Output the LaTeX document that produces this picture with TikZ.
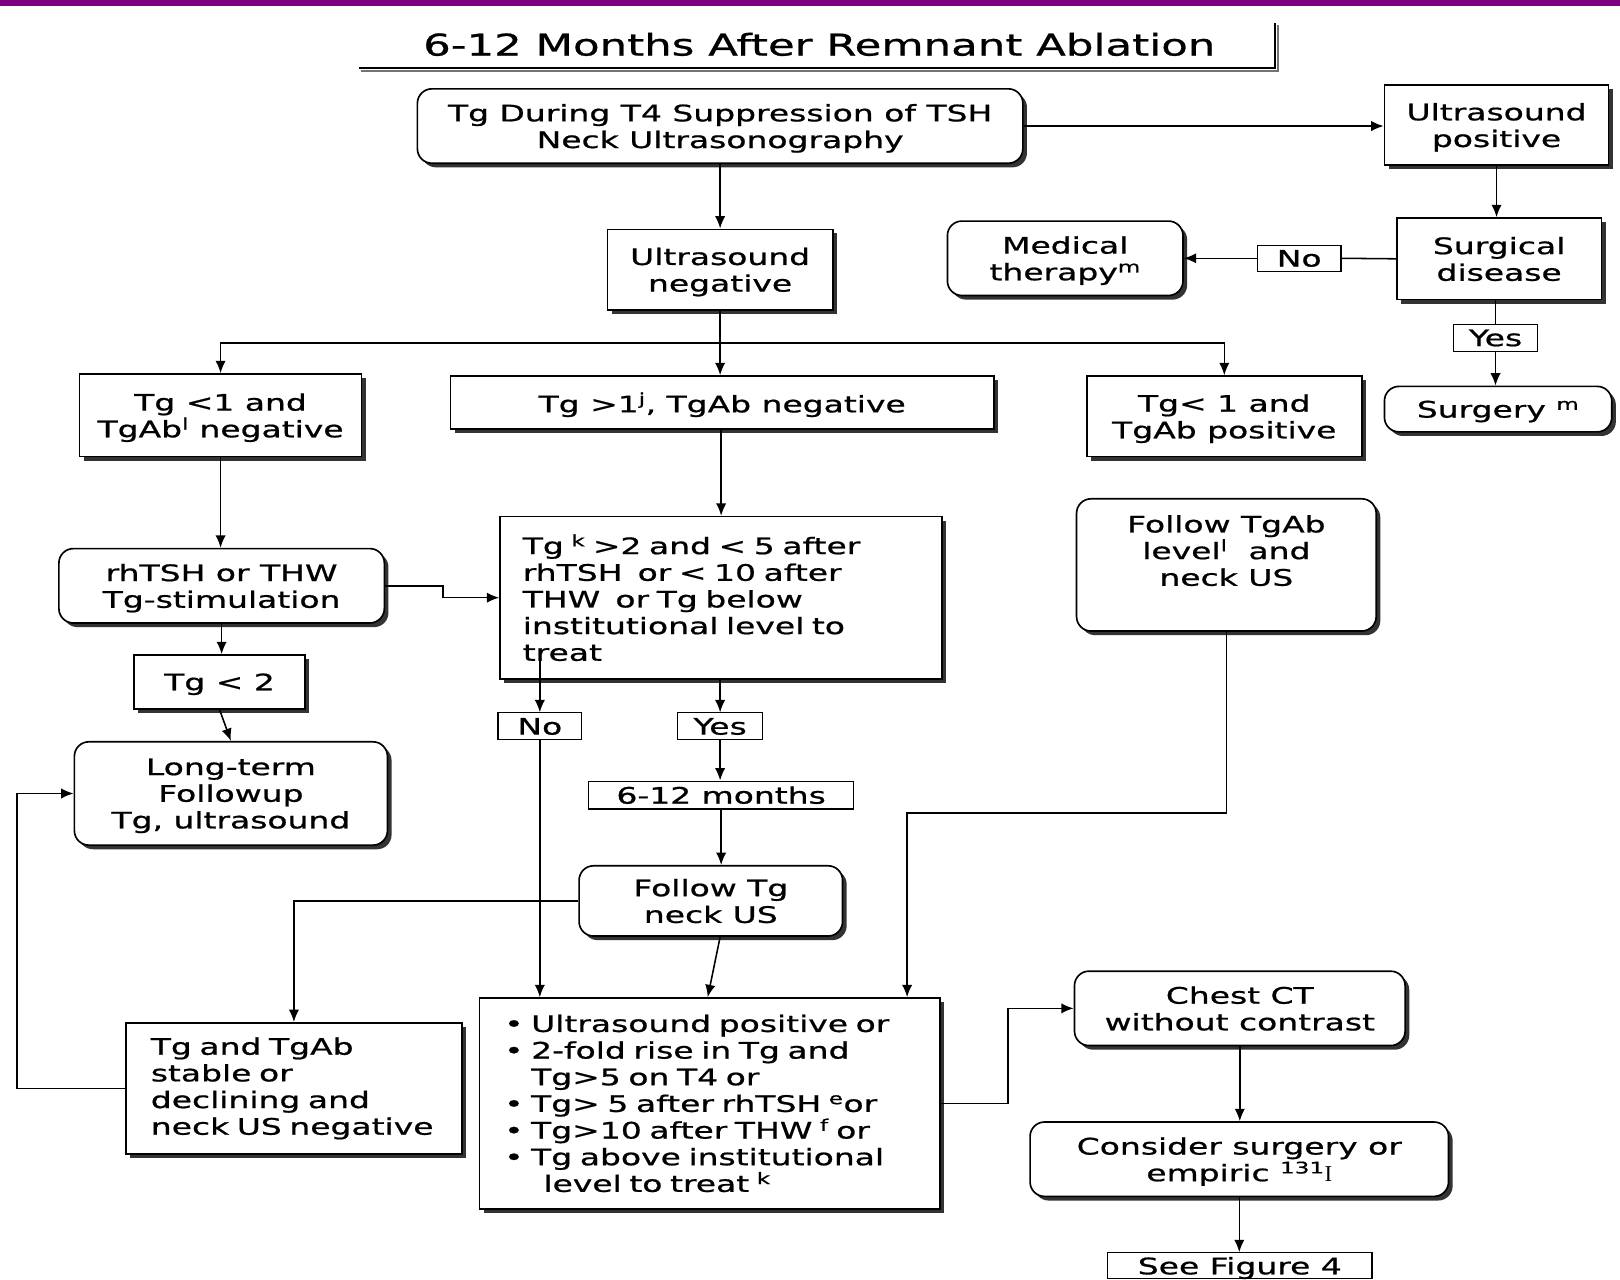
\documentclass[tikz,border=0pt]{standalone}
\usepackage{fontspec}
\setmainfont{DejaVu Sans}[FakeStretch=1.45,FakeBold=0.8]
\newfontfamily\serifI{Liberation Serif}
\usetikzlibrary{arrows.meta,shadows,calc}
\definecolor{topbar}{HTML}{800080}
\begin{document}
\begin{tikzpicture}[x=1pt,y=-1pt,
  every node/.style={font=\fontsize{22}{25.8}\selectfont},
  box/.style={draw, line width=1.6pt, fill=white,
    drop shadow={shadow xshift=4pt, shadow yshift=-4pt, fill=black!80, opacity=1},
    align=center, inner sep=4pt},
  cbox/.style={box, text depth=0pt},
  rbox/.style={cbox, rounded corners=14pt},
  lbl/.style={draw, line width=1.1pt, fill=white, inner sep=1pt, align=center, text depth=0pt},
  arr/.style={line width=1.5pt, -{Latex[length=12pt,width=10pt]}},
  conn/.style={line width=1.5pt}]
\useasboundingbox (0,0) rectangle (1568,1238);
\fill[white] (0,0) rectangle (1568,1238);
\fill[topbar] (0,0) rectangle (1568,6);

% title
\node[font=\fontsize{29}{34}\selectfont] (title) at (793,43) {6-12 Months After Remnant Ablation};
\draw[line width=2pt, black!55] (349,69) -- (1237,69) -- (1237,24);
\draw[line width=2pt] (347,66) -- (1234,66) -- (1234,22);

% nodes
\node[rbox, minimum width=586pt, minimum height=72pt] (n1) at (697,122) {Tg During T4 Suppression of TSH\\Neck Ultrasonography};
\node[cbox, minimum width=217pt, minimum height=78pt] (usp) at (1448.5,121) {Ultrasound\\positive};
\node[cbox, minimum width=218pt, minimum height=78pt] (usn) at (697,261) {Ultrasound\\negative};
\node[rbox, minimum width=228pt, minimum height=72pt] (med) at (1031,250) {Medical\\therapy\textsuperscript{m}};
\node[lbl, minimum width=81pt, minimum height=25pt] (nolab1) at (1257.5,250) {No};
\node[cbox, minimum width=198pt, minimum height=79pt] (surg) at (1451,250.5) {Surgical\\disease};
\node[lbl, minimum width=81pt, minimum height=26pt] (yeslab1) at (1447.5,327) {Yes};
\node[rbox, minimum width=220pt, minimum height=44pt] (surgery) at (1450,396) {Surgery \textsuperscript{m}};

\node[cbox, minimum width=273pt, minimum height=80pt] (tg1n) at (213.5,402) {Tg <1 and\\TgAb\textsuperscript{l} negative};
\node[cbox, minimum width=526pt, minimum height=51pt] (tgg1) at (699,389.5) {Tg >1\textsuperscript{j}, TgAb negative};
\node[cbox, minimum width=266pt, minimum height=78pt] (tg1p) at (1185,403) {Tg< 1 and\\TgAb positive};

\node[rbox, minimum width=315pt, minimum height=72pt] (rh) at (214.5,567) {rhTSH or THW\\Tg-stimulation};
\node[box, minimum width=428pt, minimum height=157pt, inner xsep=22pt, text width=384pt, align=left] (tgk) at (698,578.5)
  {Tg \textsuperscript{k} >2 and < 5 after\\rhTSH\ \ or < 10 after\\THW\ \ or Tg below\\institutional level to\\treat};
\node[box, rounded corners=14pt, anchor=north, minimum width=290pt, minimum height=128pt, inner ysep=15pt, text depth=28pt] (ftgab) at (1187,482) {Follow TgAb\\level\textsuperscript{l}\ \ and\\neck US};

\node[cbox, minimum width=165pt, minimum height=52pt] (tg2) at (212.5,660) {Tg < 2};
\node[rbox, minimum width=303pt, minimum height=100pt] (lt) at (223.5,768) {Long-term\\Followup\\Tg, ultrasound};

\node[lbl, minimum width=81pt, minimum height=26pt] (nolab2) at (522.5,703) {No};
\node[lbl, minimum width=82pt, minimum height=26pt] (yeslab2) at (697,703) {Yes};
\node[lbl, minimum width=256pt, minimum height=27pt] (m612) at (698,769.5) {6-12 months};
\node[rbox, minimum width=255pt, minimum height=68pt] (ftg) at (688,872) {Follow Tg\\neck US};

\node[box, minimum width=325pt, minimum height=127pt, inner xsep=24pt, text width=277pt, align=left] (stable) at (284.5,1053.5)
  {Tg and TgAb\\stable or\\declining and\\neck US negative};
\node[box, minimum width=446pt, minimum height=204pt, inner xsep=24pt, text width=398pt, align=left] (bul) at (687,1068)
  {\textbullet\ Ultrasound positive or\\
   \textbullet\ 2-fold rise in Tg and\\
   \phantom{\textbullet\ }Tg>5 on T4 or\\
   \textbullet\ Tg> 5 after rhTSH \textsuperscript{e}or\\
   \textbullet\ Tg>10 after THW \textsuperscript{f} or\\
   \textbullet\ Tg above institutional\\
   \hspace*{38pt}level to treat \textsuperscript{k}};

\node[rbox, minimum width=320pt, minimum height=72pt] (ct) at (1200,976) {Chest CT\\without contrast};
\node[rbox, minimum width=405pt, minimum height=72pt] (cons) at (1199.5,1122) {Consider surgery or\\empiric \textsuperscript{131}{\serifI I}};
\node[lbl, anchor=north, minimum width=256pt, minimum height=25pt] (fig4) at (1200,1212) {See Figure 4};

% connectors
\draw[arr] (n1.east) -- (n1.east -| usp.west);
\draw[arr] (n1.south) -- (usn.north);
\draw[arr] (usp.south) -- (usp.south |- surg.north);
\draw[conn] (surg.west) -- (nolab1.east);
\draw[arr] (nolab1.west) -- (med.east);
\draw[conn] (yeslab1.north |- surg.south) -- (yeslab1.north);
\draw[arr] (yeslab1.south) -- (yeslab1.south |- surgery.north);

\coordinate (br) at (697,332);
\draw[arr] (usn.south) -- (usn.south |- tgg1.north);
\draw[arr] (br) -| (tg1n.north);
\draw[arr] (br) -| (tg1p.north);

\draw[arr] (tg1n.south) -- (tg1n.south |- rh.north);
\draw[arr] (rh.south) -- (rh.south |- tg2.north);
\draw[arr] (rh.east) -- ++(56,0) |- (tgk.west);
\draw[arr] (tg2.south) -- (lt.north);

\draw[arr] (tgg1.south -| tgk.north) -- (tgk.north);
\draw[arr] ([yshift=22pt]nolab2.north |- tgk.south) -- (nolab2.north);
\draw[arr] (nolab2.south) -- (nolab2.south |- bul.north);
\draw[arr] (yeslab2.north |- tgk.south) -- (yeslab2.north);
\draw[arr] (yeslab2.south) -- (yeslab2.south |- m612.north);
\draw[arr] (m612.south) -- (m612.south |- ftg.north);
\draw[arr] ([xshift=9pt]ftg.south) -- ([xshift=-2pt]bul.north);
\draw[arr] (ftg.west) -| (stable.north);

\coordinate (c1) at (878,787);
\draw[arr] (ftgab.south) |- (c1) -- (c1 |- bul.north);

\draw[arr] (stable.west) -- ++(-105,0) |- (lt.west);
\draw[arr] (bul.east) -- ++(65,0) |- (ct.west);
\draw[arr] (ct.south) -- (ct.south |- cons.north);
\draw[arr] (cons.south) -- (cons.south |- fig4.north);
\end{tikzpicture}
\end{document}
